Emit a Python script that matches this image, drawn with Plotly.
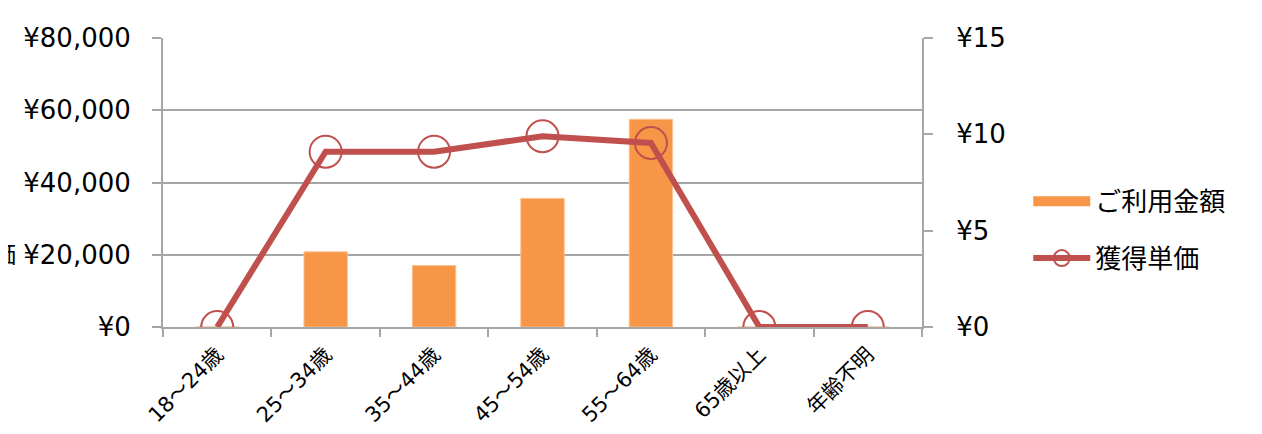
import plotly.graph_objects as go

categories = ["18～24歳", "25～34歳", "35～44歳", "45～54歳", "55～64歳", "65歳以上", "年齢不明"]
usage_amount = [0, 20800, 17000, 35600, 57500, 0, 0]
unit_price = [0, 9.1, 9.1, 9.9, 9.55, 0, 0]
left_ticks = [0, 20000, 40000, 60000, 80000]
right_ticks = [0, 5, 10, 15]

FONT = "DejaVu Sans, Noto Sans CJK JP, sans-serif"
GRID = "#a6a6a6"
ORANGE = "#F79646"
RED = "#C0504D"

fig = go.Figure()
fig.add_trace(go.Bar(
    x=categories, y=usage_amount, name="ご利用金額", showlegend=False,
    marker=dict(color=ORANGE, line=dict(color="#FAC08F", width=1)),
    width=0.4, yaxis="y",
))
# legend swatch for the bars (wide rectangle as in the reference)
fig.add_trace(go.Scatter(
    x=[None], y=[None], name="ご利用金額", mode="lines", legendgroup="a",
    line=dict(color=ORANGE, width=20), yaxis="y", hoverinfo="skip",
))
fig.add_trace(go.Scatter(
    x=categories, y=unit_price, name="獲得単価", mode="lines+markers", legendgroup="b",
    line=dict(color=RED, width=6),
    marker=dict(symbol="circle-open", size=32, color=RED, line=dict(color=RED, width=2)),
    yaxis="y2",
))

# the page has an 8px body margin, so the figure is 8px smaller and margins compensate
fig.update_layout(
    width=1254, height=426,
    margin=dict(l=155, r=340, t=30, b=107, autoexpand=False),
    paper_bgcolor="white", plot_bgcolor="white",
    font=dict(family=FONT, size=26, color="#000000"),
    showlegend=True,
    legend=dict(x=1.14, xanchor="left", y=0.516, yanchor="top", itemwidth=57,
                traceorder="grouped", tracegroupgap=20,
                font=dict(size=26), bgcolor="rgba(0,0,0,0)"),
    xaxis=dict(
        type="category", tickangle=-45, showline=True, linecolor=GRID, linewidth=2,
        ticks="outside", ticklen=8, tickcolor=GRID, tickwidth=2, tickson="boundaries",
        showgrid=False, tickfont=dict(size=21), range=[-0.5, 6.5], ticklabelstandoff=5,
    ),
    yaxis=dict(
        range=[0, 80000], tickmode="array", tickvals=left_ticks,
        ticktext=[f"¥{v:,}" for v in left_ticks],
        showline=True, linecolor=GRID, linewidth=2, ticks="outside", ticklen=9,
        tickcolor=GRID, tickwidth=2, showgrid=True, gridcolor=GRID, gridwidth=2,
        zeroline=False, ticklabelstandoff=16,
    ),
    yaxis2=dict(
        range=[0, 15], tickmode="array", tickvals=right_ticks,
        ticktext=[f"¥{v}" for v in right_ticks], overlaying="y", side="right",
        showline=True, linecolor=GRID, linewidth=2, ticks="outside", ticklen=9,
        tickcolor=GRID, tickwidth=2, showgrid=False, zeroline=False, ticklabelstandoff=18,
    ),
)

fig.add_annotation(
    text="獲得単価", xref="paper", yref="y", x=-0.191, y=20000,
    xanchor="right", yanchor="middle", showarrow=False, font=dict(size=24),
)

fig.write_html("out.html")
